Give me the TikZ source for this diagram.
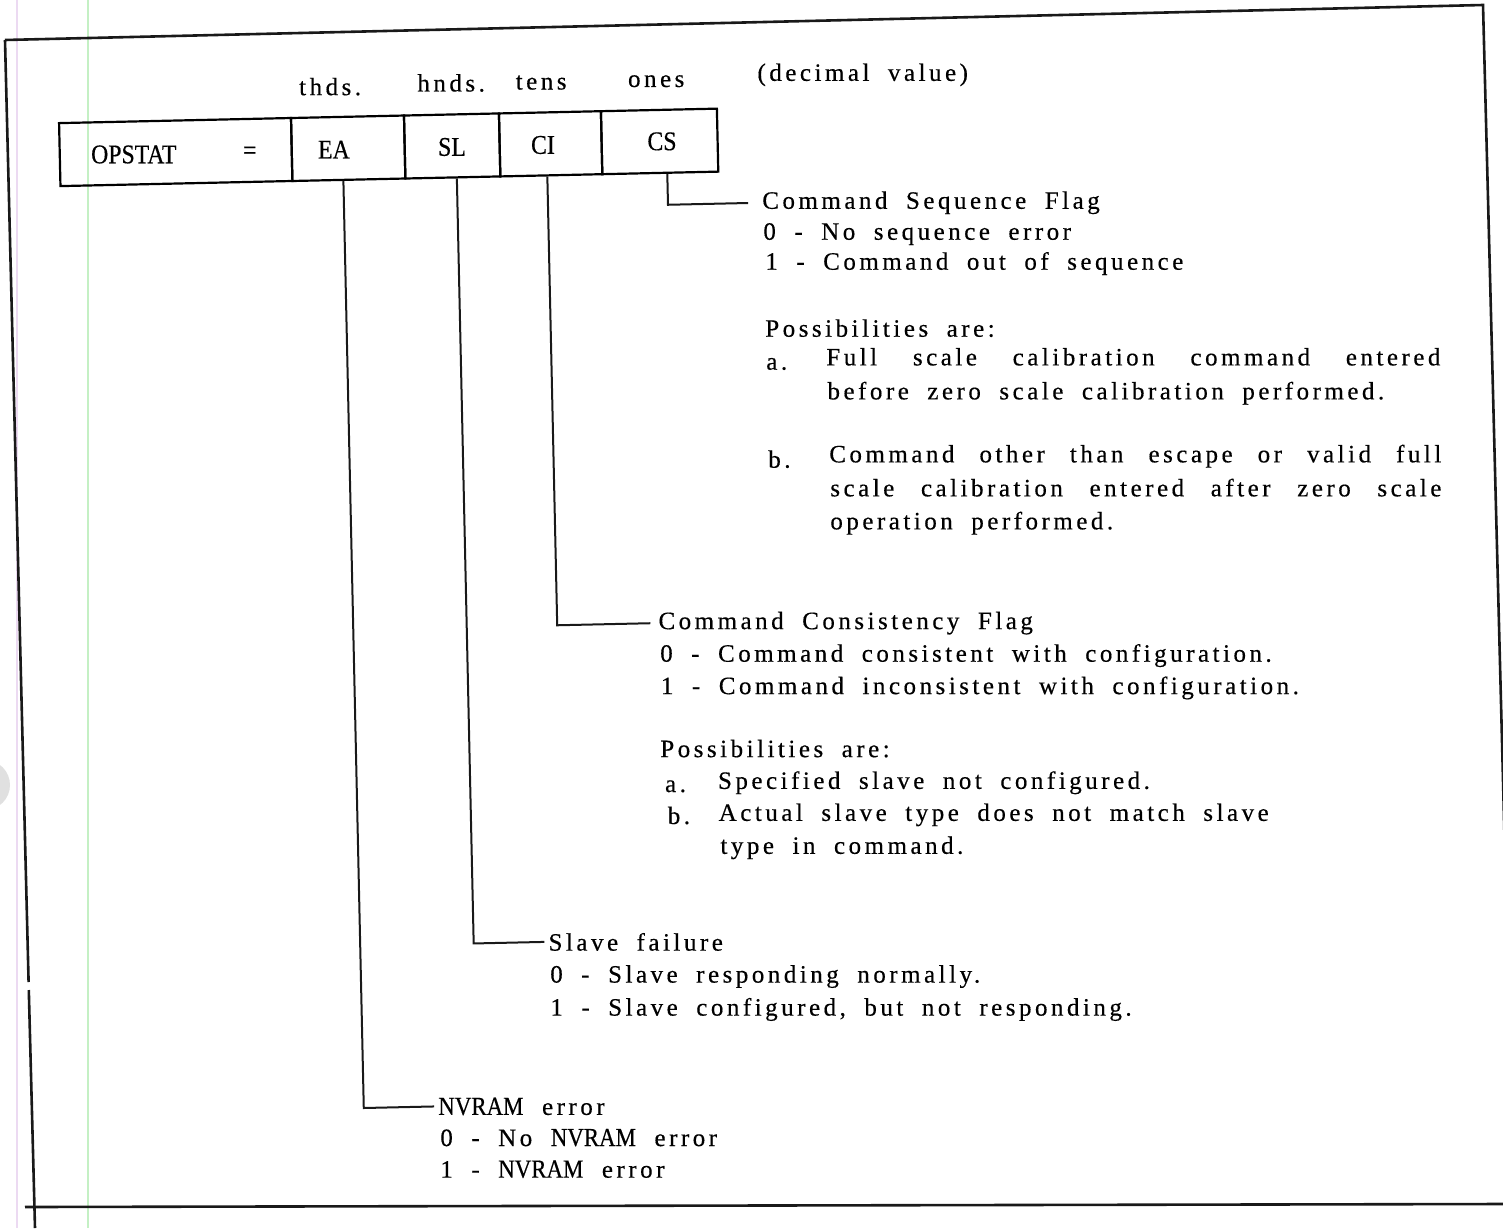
\documentclass[tikz,border=0pt]{standalone}
\usepackage{fontspec}
\setmainfont{Liberation Serif}
\newfontfamily\spacedfont{Liberation Serif}[LetterSpace=14, FakeBold=0.4, WordSpace=1.9]
\newfontfamily\capfont{Liberation Serif}[FakeStretch=0.88, FakeBold=0.4]
\newcommand\jline[2]{\makebox[#1][s]{#2}}
\newcommand\tight[1]{{\capfont\fontsize{26}{29}\selectfont #1}}
\begin{document}
\begin{tikzpicture}[x=1pt,y=-1pt,
  framestyle/.style={line width=2.6pt, black!90},
  cell/.style={draw, line width=2.2pt, minimum height=63pt, inner sep=0pt, transform shape},
  celltxt/.style={inner sep=0pt, font={\capfont\fontsize{27}{29}\selectfont}},
  head/.style={anchor=base, inner sep=0pt, font={\spacedfont\fontsize{25}{30}\selectfont}},
  txt/.style={anchor=base west, inner xsep=4pt, inner ysep=0pt, font={\spacedfont\fontsize{25}{30}\selectfont}},
  conn/.style={line width=2pt, black!90},
  artifact/.style={line width=1.3pt}
]
\useasboundingbox (0,0) rectangle (1503,1228);
\fill[white] (0,0) rectangle (1503,1228);
\clip (0,0) rectangle (1503,1228);

% scan artifacts
\draw[artifact, color={rgb,255:red,236;green,218;blue,242}] (17,0) -- (17,1228);
\draw[artifact, color={rgb,255:red,196;green,240;blue,196}] (88,0) -- (88,1228);
\fill[black!12] (-15,785) circle (25);

% outer frame (as scanned)
\draw[framestyle] (5,40) -- (1483,5) -- (1514,1207);
\draw[framestyle] (5,40) -- (28.6,982);
\draw[framestyle] (28.8,990) -- (35,1228);
\draw[framestyle] (25,1207) -- (1503,1204);

\begin{scope}[rotate around={1.26:(751,614)}]
  % header labels
  \node[head] (hth) at (341.6,86) {thds.};
  \node[head] (hhn) at (462.7,85) {hnds.};
  \node[head] (hte) at (552.7,85) {tens};
  \node[head] (hon) at (667.8,85) {ones};
  \node[txt]  (hdv) at (765,81) {(decimal value)};

  % register cells
  \node[cell, minimum width=232pt] (cOP) at (186,139.5) {};
  \node[cell, minimum width=113pt] (cEA) at (358.5,139.5) {};
  \node[cell, minimum width=95pt]  (cSL) at (462.5,139.5) {};
  \node[cell, minimum width=102pt] (cCI) at (561,139.5) {};
  \node[cell, minimum width=116pt] (cCS) at (670,139.5) {};

  \node[celltxt] (tOP) at (144,141) {OPSTAT};
  \node[celltxt] (tEQ) at (260,142) {=};
  \node[celltxt] (tEA) at (344.2,140.5) {EA};
  \node[celltxt] (tSL) at (462.3,140.5) {SL};
  \node[celltxt] (tCI) at (553.3,140.5) {CI};
  \node[celltxt] (tCS) at (672.4,139.5) {CS};

  % CS block
  \node[txt] (cs0) at (767,209) {Command Sequence Flag};
  \node[txt] (cs1) at (767.4,240) {0 - No sequence error};
  \node[txt] (cs2) at (768.7,270) {1 - Command out of sequence};
  \node[txt] (cs3) at (767.2,337) {Possibilities are:};
  \node[txt] (csa) at (767.5,370) {a.};
  \node[txt] (csa1) at (827.6,367) {\jline{614pt}{Full scale calibration command entered}};
  \node[txt] (csa2) at (828,401) {before zero scale calibration performed.};
  \node[txt] (csb) at (767.3,468) {b.};
  \node[txt] (csb1) at (828.4,464) {\jline{612pt}{Command other than escape or valid full}};
  \node[txt] (csb2) at (828.7,498) {\jline{611pt}{scale calibration entered after zero scale}};
  \node[txt] (csb3) at (828,531) {operation performed.};

  % CI block
  \node[txt] (ci0) at (654,627) {Command Consistency Flag};
  \node[txt] (ci1) at (655,659.6) {0 - Command consistent with configuration.};
  \node[txt] (ci2) at (655,692) {1 - Command inconsistent with configuration.};
  \node[txt] (ci3) at (653,755) {Possibilities are:};
  \node[txt] (cia) at (657,790) {a.};
  \node[txt] (cia1) at (710,788) {Specified slave not configured.};
  \node[txt] (cib) at (659,822) {b.};
  \node[txt] (cib1) at (710,820) {Actual slave type does not match slave};
  \node[txt] (cib2) at (711,853) {type in command.};

  % SL block
  \node[txt] (sl0) at (537,946) {Slave failure};
  \node[txt] (sl1) at (538,978) {0 - Slave responding normally.};
  \node[txt] (sl2) at (537.4,1011) {1 - Slave configured, but not responding.};

  % EA block
  \node[txt] (nv0) at (423.2,1107.8) {\tight{NVRAM} error};
  \node[txt] (nv1) at (424.5,1139) {0 - No \tight{NVRAM} error};
  \node[txt] (nv2) at (423.8,1170.6) {1 - \tight{NVRAM} error};

  % connectors
  \draw[conn] ([xshift=-5.5pt]cEA.south) |- (nv0.west);
  \draw[conn] ([xshift=4pt]cSL.south) |- (sl0.west);
  \draw[conn, shorten >=4pt] ([xshift=-4pt]cCI.south) |- (ci0.west);
  \draw[conn, shorten >=10pt] ([xshift=7pt]cCS.south) |- (cs0.west);
\end{scope}
\end{tikzpicture}
\end{document}
